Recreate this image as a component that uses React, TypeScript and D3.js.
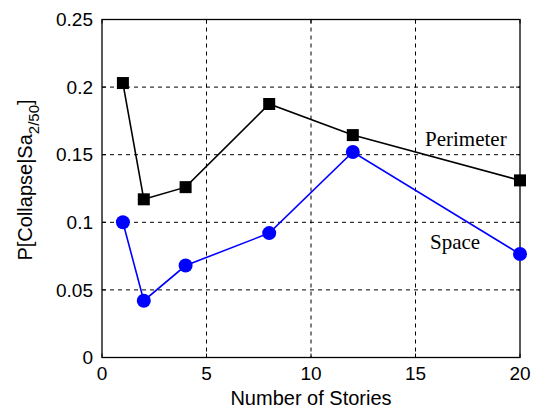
import React from "react";
import * as d3 from "d3";

const stories = [1, 2, 4, 8, 12, 20];
const perimeter = [0.203, 0.117, 0.126, 0.1875, 0.1645, 0.131];
const space = [0.1, 0.042, 0.068, 0.092, 0.152, 0.0765];
const xTicks = [0, 5, 10, 15, 20];
const yTicks = [0, 0.05, 0.1, 0.15, 0.2, 0.25];
const yTickLabels = ["0", "0.05", "0.1", "0.15", "0.2", "0.25"];

const W = 533, H = 411;
const L = 102, R = 520, T = 19.5, B = 357.5;

export default function App() {
  const x = d3.scaleLinear().domain([0, 20]).range([L, R]);
  const y = d3.scaleLinear().domain([0, 0.25]).range([B, T]);
  const line = d3.line<[number, number]>().x(d => x(d[0])).y(d => y(d[1]));
  const pData = stories.map((s, i) => [s, perimeter[i]] as [number, number]);
  const sData = stories.map((s, i) => [s, space[i]] as [number, number]);
  const sans = "'Liberation Sans', Arial, Helvetica, sans-serif";
  const serif = "'Liberation Serif', 'Times New Roman', serif";
  return (
    <svg width={W} height={H} style={{ position: "absolute", left: 0, top: 0, background: "#fff" }}>
      <rect x={0} y={0} width={W} height={H} fill="#fff" />
      {/* grid */}
      {xTicks.slice(1, -1).map(t => (
        <line key={"gx" + t} x1={x(t)} x2={x(t)} y1={T} y2={B} stroke="#000" strokeWidth={1} strokeDasharray="4,4" />
      ))}
      {yTicks.slice(1, -1).map(t => (
        <line key={"gy" + t} x1={L} x2={R} y1={y(t)} y2={y(t)} stroke="#000" strokeWidth={1} strokeDasharray="4,4" />
      ))}
      {/* ticks */}
      {xTicks.map(t => (
        <g key={"tx" + t}>
          <line x1={x(t)} x2={x(t)} y1={B} y2={B - 4} stroke="#000" />
          <line x1={x(t)} x2={x(t)} y1={T} y2={T + 4} stroke="#000" />
        </g>
      ))}
      {yTicks.map(t => (
        <g key={"ty" + t}>
          <line x1={L} x2={L + 4} y1={y(t)} y2={y(t)} stroke="#000" />
          <line x1={R} x2={R - 4} y1={y(t)} y2={y(t)} stroke="#000" />
        </g>
      ))}
      <rect x={L} y={T} width={R - L} height={B - T} fill="none" stroke="#000" strokeWidth={1.3} />
      {/* tick labels */}
      {xTicks.map(t => (
        <text key={"lx" + t} x={x(t)} y={380} textAnchor="middle" fontFamily={sans} fontSize={19}>{t}</text>
      ))}
      {yTicks.map((t, i) => (
        <text key={"ly" + t} x={93} y={y(t)} dy="0.35em" textAnchor="end" fontFamily={sans} fontSize={19}>{yTickLabels[i]}</text>
      ))}
      {/* axis labels */}
      <text x={(L + R) / 2} y={405} textAnchor="middle" fontFamily={sans} fontSize={20}>Number of Stories</text>
      <text transform="translate(32,180) rotate(-90)" textAnchor="middle" fontFamily={sans} fontSize={20}>
        P[Collapse|Sa<tspan fontSize={15} dy={7}>2/50</tspan><tspan dy={-7}>]</tspan>
      </text>
      {/* series */}
      <path d={line(pData) || ""} fill="none" stroke="#000" strokeWidth={1.6} />
      {pData.map((d, i) => (
        <rect key={"pm" + i} x={x(d[0]) - 6} y={y(d[1]) - 6} width={12} height={12} fill="#000" />
      ))}
      <path d={line(sData) || ""} fill="none" stroke="#0000ff" strokeWidth={1.6} />
      {sData.map((d, i) => (
        <circle key={"sm" + i} cx={x(d[0])} cy={y(d[1])} r={7} fill="#0000ff" />
      ))}
      <text x={425} y={146} fontFamily={serif} fontSize={21}>Perimeter</text>
      <text x={430} y={249} fontFamily={serif} fontSize={21}>Space</text>
    </svg>
  );
}
